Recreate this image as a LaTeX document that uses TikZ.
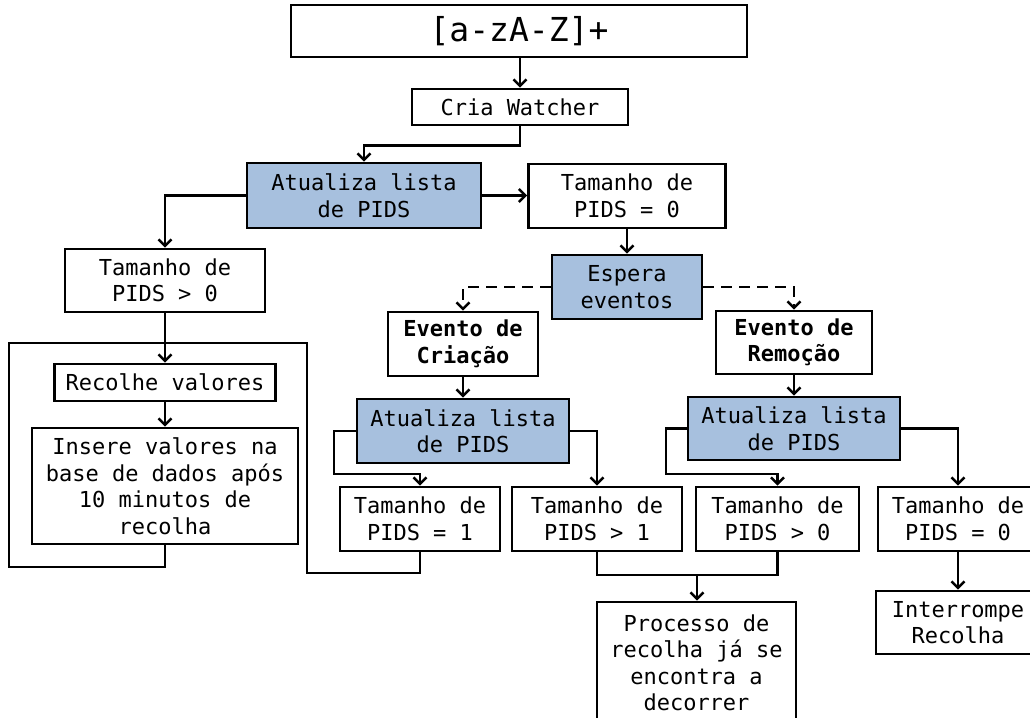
\documentclass[tikz,border=0pt]{standalone}
\usepackage{fontspec}
\setmonofont{DejaVu Sans Mono}
\usetikzlibrary{arrows.meta,calc}
\definecolor{boxblue}{RGB}{167,192,222}
\begin{document}
\begin{tikzpicture}[x=1pt,y=-1pt,line join=miter,
  box/.style={draw,line width=2.6pt,fill=white,inner sep=0pt,align=center,
    font=\ttfamily\fontsize{22}{26.5}\selectfont},
  bluebox/.style={box,fill=boxblue},
  boldbox/.style={box,font=\ttfamily\bfseries\fontsize{22}{26.5}\selectfont},
  arr/.style={line width=2.6pt,-{Straight Barb[length=6.5pt,width=13pt]}},
  link/.style={line width=2.6pt},
  evdash/.style={dash pattern=on 11pt off 7pt}]
\clip (0,0) rectangle (1030,717);
\useasboundingbox (0,0) rectangle (1030,717);

% top row
\node[box,minimum width=456pt,minimum height=52pt,
  font=\ttfamily\fontsize{33}{36}\selectfont] (top) at (519,31) {[a-zA-Z]+};
\node[box,minimum width=216pt,minimum height=36pt] (cria) at (520,107) {Cria Watcher};
\node[bluebox,minimum width=234pt,minimum height=65pt] (at1) at (364,195.5) {Atualiza lista\\de PIDS};
\node[box,minimum width=197pt,minimum height=64pt] (tz) at (627,196) {Tamanho de\\PIDS = 0};
\node[bluebox,minimum width=150pt,minimum height=64pt] (esp) at (627,287) {Espera\\eventos};

% left branch
\node[box,minimum width=200pt,minimum height=63pt] (tg) at (165,280.5) {Tamanho de\\PIDS > 0};
\node[box,minimum width=221pt,minimum height=37pt] (rec) at (165,382.5) {Recolhe valores};
\node[box,minimum width=266pt,minimum height=116pt] (ins) at (165,486)
  {Insere valores na\\base de dados após\\10 minutos de\\recolha};

% events
\node[boldbox,minimum width=150pt,minimum height=64pt] (evc) at (463,344) {Evento de\\Criação};
\node[bluebox,minimum width=212pt,minimum height=64pt] (atc) at (463,431) {Atualiza lista\\de PIDS};
\node[boldbox,minimum width=156pt,minimum height=63pt] (evr) at (794,342.5) {Evento de\\Remoção};
\node[bluebox,minimum width=212pt,minimum height=63pt] (atr) at (794,428.5) {Atualiza lista\\de PIDS};

% bottom row
\node[box,minimum width=160pt,minimum height=64pt] (t1) at (420,519) {Tamanho de\\PIDS = 1};
\node[box,minimum width=170pt,minimum height=64pt] (tg1) at (597,519) {Tamanho de\\PIDS > 1};
\node[box,minimum width=163pt,minimum height=64pt] (tg0) at (777.5,519) {Tamanho de\\PIDS > 0};
\node[box,minimum width=160pt,minimum height=64pt] (t0r) at (958,519) {Tamanho de\\PIDS = 0};
\node[box,minimum width=164pt,minimum height=63pt] (intr) at (958,622.5) {Interrompe\\Recolha};
\node[box,minimum width=199pt,minimum height=122pt] (proc) at (696.5,663)
  {Processo de\\recolha já se\\encontra a\\decorrer};

% bend points
\coordinate (cl) at (334,474);
\coordinate (rl) at (666,474);
\coordinate (mg) at (697,575);
\coordinate (l1) at (307,573);
\coordinate (l2) at (9,343);
\coordinate (l3) at (9,567);

% connectors
\draw[arr] (cria.north |- top.south) -- (cria.north);
\draw[arr] (cria.south) -- ++(0,19) -| (at1.north);
\draw[arr] (at1.east) -- (at1.east -| tz.west);
\draw[arr] (at1.west) -| (tg.north);
\draw[arr] (tz.south) -- (tz.south |- esp.north);
\draw[arr,evdash] (esp.west) -| (evc.north);
\draw[arr,evdash] (esp.east) -| (evr.north);
\draw[arr] (tg.south) -- (rec.north);
\draw[arr] (rec.south) -- (ins.north);
\draw[arr] (evc.south) -- (atc.north);
\draw[arr] (evr.south) -- (atr.north);
\draw[arr] (atc.west) -| (cl) -| (t1.north);
\draw[arr] (atc.east) -| (tg1.north);
\draw[arr] (atr.west) -| (rl) -| (tg0.north);
\draw[arr] (atr.east) -| (t0r.north);
\draw[arr] (t0r.south) -- (intr.north);
\draw[link] (tg1.south) |- (mg) -| (tg0.south);
\draw[arr] (mg) -- (mg |- proc.north);
\draw[link] (t1.south) |- (l1) |- (l2) -- (l3) -| (ins.south);
\end{tikzpicture}
\end{document}
